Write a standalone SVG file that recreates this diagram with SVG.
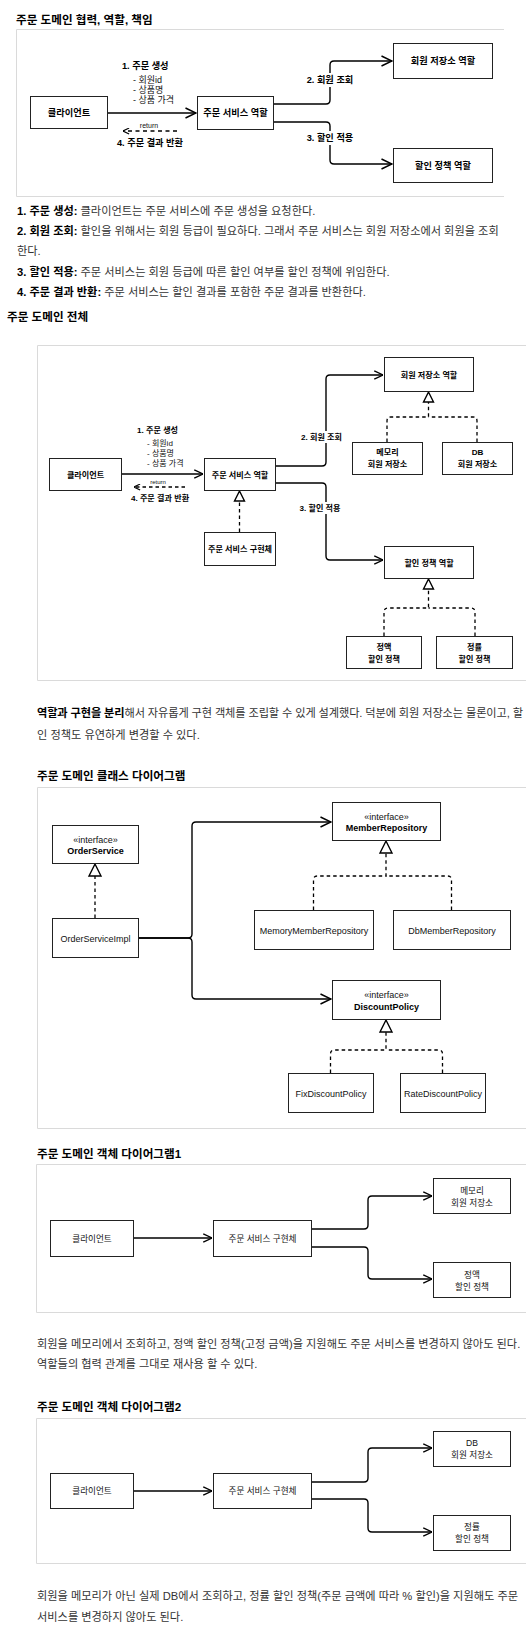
<svg xmlns="http://www.w3.org/2000/svg" width="526" height="1634" viewBox="0 0 526 1634">
<style>
text{font-family:'Liberation Sans','Noto Sans CJK KR',sans-serif;}
.h{font-size:11.6px;font-weight:bold;fill:#000;}
.p{font-size:11.2px;fill:#333;}
.b{font-weight:bold;fill:#000;}
.frame{fill:none;stroke:#dadada;stroke-width:1;}
.box{fill:#fff;stroke:#222;stroke-width:1;}
.t1{font-size:9.2px;font-weight:bold;fill:#000;text-anchor:middle;}
.t1l{font-size:9.2px;font-weight:bold;fill:#000;}
.s1{font-size:9px;fill:#111;}
.t2{font-size:8.1px;font-weight:bold;fill:#000;text-anchor:middle;}
.t2l{font-size:8.1px;font-weight:bold;fill:#000;}
.s2{font-size:8px;fill:#111;}
.to{font-size:8.6px;fill:#111;text-anchor:middle;}
.tc{font-size:9px;fill:#111;text-anchor:middle;}
.tcb{font-size:9px;font-weight:bold;fill:#000;text-anchor:middle;}
.conn{fill:none;stroke:#000;stroke-width:1.4;}
.dash{fill:none;stroke:#000;stroke-width:1.3;stroke-dasharray:3.5 3;}
.tri{fill:#fff;stroke:#000;stroke-width:1.4;}
.bg{fill:#fff;}
</style>
<defs>
<marker id="a1" viewBox="0 0 12 12" refX="11.5" refY="6" markerWidth="12" markerHeight="12" markerUnits="userSpaceOnUse" orient="auto"><path d="M1,1 L11.5,6 L1,11" fill="none" stroke="#000" stroke-width="1.5"/></marker>
<marker id="a2" viewBox="0 0 12 12" refX="11.5" refY="6" markerWidth="10" markerHeight="10" markerUnits="userSpaceOnUse" orient="auto"><path d="M1,1 L11.5,6 L1,11" fill="none" stroke="#000" stroke-width="1.6"/></marker>
<marker id="a3" viewBox="0 0 12 12" refX="11.5" refY="6" markerWidth="7" markerHeight="7" markerUnits="userSpaceOnUse" orient="auto"><path d="M1,1 L11.5,6 L1,11" fill="none" stroke="#000" stroke-width="2"/></marker>
</defs>

<!-- headings and body text -->
<g id="texts">
<text class="h" x="16" y="24">주문 도메인 협력, 역할, 책임</text>
<text class="p" x="17" y="215"><tspan class="b">1. 주문 생성:</tspan> 클라이언트는 주문 서비스에 주문 생성을 요청한다.</text>
<text class="p" x="17" y="235"><tspan class="b">2. 회원 조회:</tspan> 할인을 위해서는 회원 등급이 필요하다. 그래서 주문 서비스는 회원 저장소에서 회원을 조회</text>
<text class="p" x="17" y="255">한다.</text>
<text class="p" x="17" y="276"><tspan class="b">3. 할인 적용:</tspan> 주문 서비스는 회원 등급에 따른 할인 여부를 할인 정책에 위임한다.</text>
<text class="p" x="17" y="296"><tspan class="b">4. 주문 결과 반환:</tspan> 주문 서비스는 할인 결과를 포함한 주문 결과를 반환한다.</text>
<text class="h" x="7" y="321">주문 도메인 전체</text>
<text class="p" x="37" y="717" textLength="486"><tspan class="b">역할과 구현을 분리</tspan>해서 자유롭게 구현 객체를 조립할 수 있게 설계했다. 덕분에 회원 저장소는 물론이고, 할</text>
<text class="p" x="37" y="739">인 정책도 유연하게 변경할 수 있다.</text>
<text class="h" x="37" y="780">주문 도메인 클래스 다이어그램</text>
<text class="h" x="37" y="1158">주문 도메인 객체 다이어그램1</text>
<text class="p" x="37" y="1348">회원을 메모리에서 조회하고, 정액 할인 정책(고정 금액)을 지원해도 주문 서비스를 변경하지 않아도 된다.</text>
<text class="p" x="37" y="1368">역할들의 협력 관계를 그대로 재사용 할 수 있다.</text>
<text class="h" x="37" y="1411">주문 도메인 객체 다이어그램2</text>
<text class="p" x="37" y="1600">회원을 메모리가 아닌 실제 DB에서 조회하고, 정률 할인 정책(주문 금액에 따라 % 할인)을 지원해도 주문</text>
<text class="p" x="37" y="1621">서비스를 변경하지 않아도 된다.</text>
</g>

<!-- frames -->
<g id="frames">
<path class="frame" d="M504,29.5 H16.5 V196.5 H504"/>
<path class="frame" d="M526,345.5 H37.5 V680.5 H526"/>
<path class="frame" d="M526,787.5 H37.5 V1128.5 H526"/>
<path class="frame" d="M526,1164.5 H36.5 V1312.5 H526"/>
<path class="frame" d="M526,1418.5 H36.5 V1563.5 H526"/>
</g>

<!-- ===== Diagram 1 ===== -->
<g id="d1-connectors">
<path class="conn" d="M107,113 H196" marker-end="url(#a1)"/>
<path class="conn" d="M177,131 H123" stroke-dasharray="4 3.5" marker-end="url(#a3)"/>
<path class="conn" d="M273,104 H326 Q330,104 330,100 V65 Q330,61 334,61 H392" marker-end="url(#a1)"/>
<path class="conn" d="M273,122 H326 Q330,122 330,126 V160 Q330,164 334,164 H392" marker-end="url(#a1)"/>
<text class="t1l" x="122" y="69">1. 주문 생성</text>
<text class="s1" x="133" y="83">- 회원id</text>
<text class="s1" x="133" y="93">- 상품명</text>
<text class="s1" x="133" y="103">- 상품 가격</text>
<text x="149" y="127.5" font-size="7" fill="#111" text-anchor="middle">return</text>
<text class="t1" x="150" y="146">4. 주문 결과 반환</text>
<rect class="bg" x="305" y="73" width="50" height="14"/>
<text class="t1" x="330" y="83.3">2. 회원 조회</text>
<rect class="bg" x="305" y="131" width="50" height="14"/>
<text class="t1" x="330" y="141.3">3. 할인 적용</text>
</g>
<g id="d1-client"><rect class="box" x="30.5" y="96.5" width="77" height="32"/><text class="t1" x="69" y="115.5">클라이언트</text></g>
<g id="d1-order-service"><rect class="box" x="197.5" y="96.5" width="76" height="33"/><text class="t1" x="235.5" y="116">주문 서비스 역할</text></g>
<g id="d1-member-repo"><rect class="box" x="393.5" y="43.5" width="99" height="35"/><text class="t1" x="443" y="64">회원 저장소 역할</text></g>
<g id="d1-discount"><rect class="box" x="393.5" y="148.5" width="99" height="34"/><text class="t1" x="443" y="168.5">할인 정책 역할</text></g>

<!-- ===== Diagram 2 ===== -->
<g id="d2-connectors">
<path class="conn" d="M121,474 H203" marker-end="url(#a2)"/>
<path class="conn" d="M185,487 H134" stroke-dasharray="3.5 3" marker-end="url(#a3)"/>
<path class="conn" d="M275,466 H322 Q326,466 326,462 V379 Q326,375 330,375 H383" marker-end="url(#a2)"/>
<path class="conn" d="M275,483 H322 Q326,483 326,487 V556 Q326,560 330,560 H383" marker-end="url(#a2)"/>
<path class="dash" d="M239.5,532 V501"/>
<polygon class="tri" points="239.5,491 244.5,501 234.5,501"/>
<path class="dash" d="M387,442 V421 Q387,417 391,417 H428.5 V402"/>
<path class="dash" d="M477,442 V421 Q477,417 473,417 H428.5"/>
<polygon class="tri" points="428.5,392 433.5,402 423.5,402"/>
<path class="dash" d="M384,636 V612 Q384,608 388,608 H428.5 V589"/>
<path class="dash" d="M475,636 V612 Q475,608 471,608 H428.5"/>
<polygon class="tri" points="428.5,579 433.5,589 423.5,589"/>
<text class="t2l" x="137" y="433">1. 주문 생성</text>
<text class="s2" x="147" y="446">- 회원id</text>
<text class="s2" x="147" y="456">- 상품명</text>
<text class="s2" x="147" y="466">- 상품 가격</text>
<text x="158" y="484" font-size="6" fill="#111" text-anchor="middle">return</text>
<text class="t2" x="160" y="501">4. 주문 결과 반환</text>
<rect class="bg" x="296" y="431" width="52" height="12"/>
<text class="t2" x="321.5" y="440">2. 회원 조회</text>
<rect class="bg" x="295" y="502" width="50" height="12"/>
<text class="t2" x="320" y="511">3. 할인 적용</text>
</g>
<g id="d2-client"><rect class="box" x="49.5" y="458.5" width="72" height="32"/><text class="t2" x="85.5" y="477.5">클라이언트</text></g>
<g id="d2-order-service"><rect class="box" x="204.5" y="458.5" width="71" height="32"/><text class="t2" x="240" y="477.5">주문 서비스 역할</text></g>
<g id="d2-order-impl"><rect class="box" x="204.5" y="532.5" width="71" height="33"/><text class="t2" x="240" y="552">주문 서비스 구현체</text></g>
<g id="d2-member-repo"><rect class="box" x="384.5" y="357.5" width="89" height="34"/><text class="t2" x="429" y="377.5">회원 저장소 역할</text></g>
<g id="d2-memory-repo"><rect class="box" x="352.5" y="442.5" width="70" height="32"/><text class="t2" x="387.5" y="455">메모리</text><text class="t2" x="387.5" y="467">회원 저장소</text></g>
<g id="d2-db-repo"><rect class="box" x="442.5" y="442.5" width="70" height="32"/><text class="t2" x="477.5" y="455">DB</text><text class="t2" x="477.5" y="467">회원 저장소</text></g>
<g id="d2-discount"><rect class="box" x="384.5" y="546.5" width="89" height="32"/><text class="t2" x="429" y="565.5">할인 정책 역할</text></g>
<g id="d2-fix"><rect class="box" x="346.5" y="636.5" width="75" height="32"/><text class="t2" x="384" y="650">정액</text><text class="t2" x="384" y="661.5">할인 정책</text></g>
<g id="d2-rate"><rect class="box" x="436.5" y="636.5" width="76" height="32"/><text class="t2" x="474.5" y="650">정률</text><text class="t2" x="474.5" y="661.5">할인 정책</text></g>

<!-- ===== Class diagram ===== -->
<g id="cls-connectors">
<path class="conn" stroke-width="1.5" d="M138,938 H188 Q192,938 192,934 V826 Q192,822 196,822 H331" marker-end="url(#a1)"/>
<path class="conn" stroke-width="1.5" d="M138,938 H188 Q192,938 192,942 V995 Q192,999 196,999 H331" marker-end="url(#a1)"/>
<path class="dash" d="M95,918 V876"/>
<polygon class="tri" points="95,864 101,876 89,876"/>
<path class="dash" d="M313.5,910 V880 Q313.5,876 317.5,876 H386 V853"/>
<path class="dash" d="M451.5,910 V880 Q451.5,876 447.5,876 H386"/>
<polygon class="tri" points="386,841 392,853 380,853"/>
<path class="dash" d="M330.5,1073 V1054 Q330.5,1050 334.5,1050 H386 V1032"/>
<path class="dash" d="M442.5,1073 V1054 Q442.5,1050 438.5,1050 H386"/>
<polygon class="tri" points="386,1020 392,1032 380,1032"/>
</g>
<g id="cls-order-service"><rect class="box" x="52.5" y="825.5" width="86" height="38"/><text class="tc" x="95.5" y="842.5">«interface»</text><text class="tcb" x="95.5" y="853.5">OrderService</text></g>
<g id="cls-order-impl"><rect class="box" x="52.5" y="918.5" width="86" height="39"/><text class="tc" x="95.5" y="941.5">OrderServiceImpl</text></g>
<g id="cls-member-repo"><rect class="box" x="332.5" y="802.5" width="108" height="38"/><text class="tc" x="386.5" y="819.5">«interface»</text><text class="tcb" x="386.5" y="830.5">MemberRepository</text></g>
<g id="cls-memory-repo"><rect class="box" x="254.5" y="910.5" width="119" height="39"/><text class="tc" x="314" y="934">MemoryMemberRepository</text></g>
<g id="cls-db-repo"><rect class="box" x="393.5" y="910.5" width="117" height="39"/><text class="tc" x="452" y="934">DbMemberRepository</text></g>
<g id="cls-discount"><rect class="box" x="332.5" y="980.5" width="108" height="39"/><text class="tc" x="386.5" y="998">«interface»</text><text class="tcb" x="386.5" y="1010">DiscountPolicy</text></g>
<g id="cls-fix"><rect class="box" x="288.5" y="1073.5" width="85" height="39"/><text class="tc" x="331" y="1097">FixDiscountPolicy</text></g>
<g id="cls-rate"><rect class="box" x="400.5" y="1073.5" width="85" height="39"/><text class="tc" x="443" y="1097">RateDiscountPolicy</text></g>

<!-- ===== Object diagram 1 ===== -->
<g id="o1-connectors">
<path class="conn" d="M133,1238 H212" marker-end="url(#a2)"/>
<path class="conn" d="M311,1229 H364 Q368,1229 368,1225 V1200 Q368,1196 372,1196 H432" marker-end="url(#a2)"/>
<path class="conn" d="M311,1247 H364 Q368,1247 368,1251 V1275 Q368,1279 372,1279 H432" marker-end="url(#a2)"/>
</g>
<g id="o1-client"><rect class="box" x="50.5" y="1220.5" width="83" height="36"/><text class="to" x="92" y="1241.5">클라이언트</text></g>
<g id="o1-order-impl"><rect class="box" x="213.5" y="1220.5" width="98" height="36"/><text class="to" x="262.5" y="1241.5">주문 서비스 구현체</text></g>
<g id="o1-memory-repo"><rect class="box" x="433.5" y="1178.5" width="77" height="35"/><text class="to" x="472" y="1193.5">메모리</text><text class="to" x="472" y="1205.5">회원 저장소</text></g>
<g id="o1-fix"><rect class="box" x="433.5" y="1262.5" width="77" height="35"/><text class="to" x="472" y="1277.5">정액</text><text class="to" x="472" y="1289.5">할인 정책</text></g>

<!-- ===== Object diagram 2 ===== -->
<g id="o2-connectors">
<path class="conn" d="M133,1491 H212" marker-end="url(#a2)"/>
<path class="conn" d="M311,1482 H364 Q368,1482 368,1478 V1452 Q368,1448 372,1448 H432" marker-end="url(#a2)"/>
<path class="conn" d="M311,1499 H364 Q368,1499 368,1503 V1528 Q368,1532 372,1532 H432" marker-end="url(#a2)"/>
</g>
<g id="o2-client"><rect class="box" x="50.5" y="1473.5" width="83" height="35"/><text class="to" x="92" y="1494">클라이언트</text></g>
<g id="o2-order-impl"><rect class="box" x="213.5" y="1473.5" width="98" height="35"/><text class="to" x="262.5" y="1494">주문 서비스 구현체</text></g>
<g id="o2-db-repo"><rect class="box" x="433.5" y="1431.5" width="77" height="35"/><text class="to" x="472" y="1446">DB</text><text class="to" x="472" y="1457.5">회원 저장소</text></g>
<g id="o2-rate"><rect class="box" x="433.5" y="1515.5" width="77" height="35"/><text class="to" x="472" y="1530">정률</text><text class="to" x="472" y="1541.5">할인 정책</text></g>
</svg>
